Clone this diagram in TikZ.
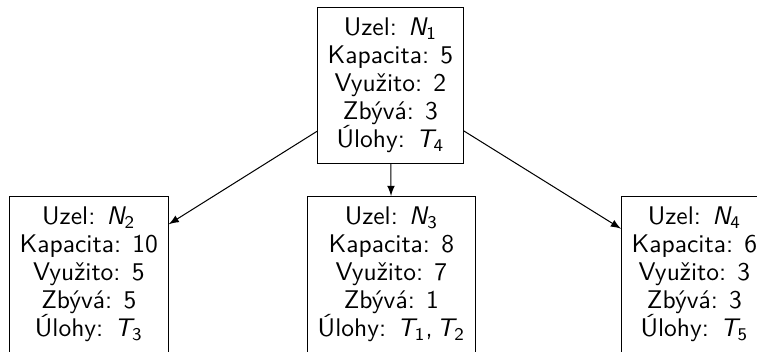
\documentclass[tikz,border=0pt]{standalone}

\tikzset{
  uzel/.style={draw, align=center, anchor=north west, inner sep=4pt,
    font=\sffamily\fontsize{10}{11}\selectfont},
  hrana/.style={-latex},
}
% oznaceni uzlu a uloh: sklonene pismeno s indexem
\newcommand\ozn[2]{$\mbox{\itshape #1}_{\mbox{\scriptsize #2}}$}

\begin{document}
\begin{tikzpicture}[x=0.392pt, y=0.392pt]
  \useasboundingbox (0,0) rectangle (757,351);
  \clip (0,0) rectangle (757,351);

  % koren
  \node[uzel] (n1) at (317,344)
    {Uzel: \ozn{N}{1}\\ Kapacita: 5\\ Využito: 2\\ Zbývá: 3\\ Úlohy: \ozn{T}{4}};

  % potomci
  \node[uzel] (n2) at (9,155)
    {Uzel: \ozn{N}{2}\\ Kapacita: 10\\ Využito: 5\\ Zbývá: 5\\ Úlohy: \ozn{T}{3}};
  \node[uzel] (n3) at (307,155)
    {Uzel: \ozn{N}{3}\\ Kapacita: 8\\ Využito: 7\\ Zbývá: 1\\ Úlohy: \ozn{T}{1},\,\ozn{T}{2}};
  \node[uzel] (n4) at (621,155)
    {Uzel: \ozn{N}{4}\\ Kapacita: 6\\ Využito: 3\\ Zbývá: 3\\ Úlohy: \ozn{T}{5}};

  \draw[hrana] (n1) -- (n2);
  \draw[hrana] (n1) -- (n3);
  \draw[hrana] (n1) -- (n4);
\end{tikzpicture}
\end{document}
